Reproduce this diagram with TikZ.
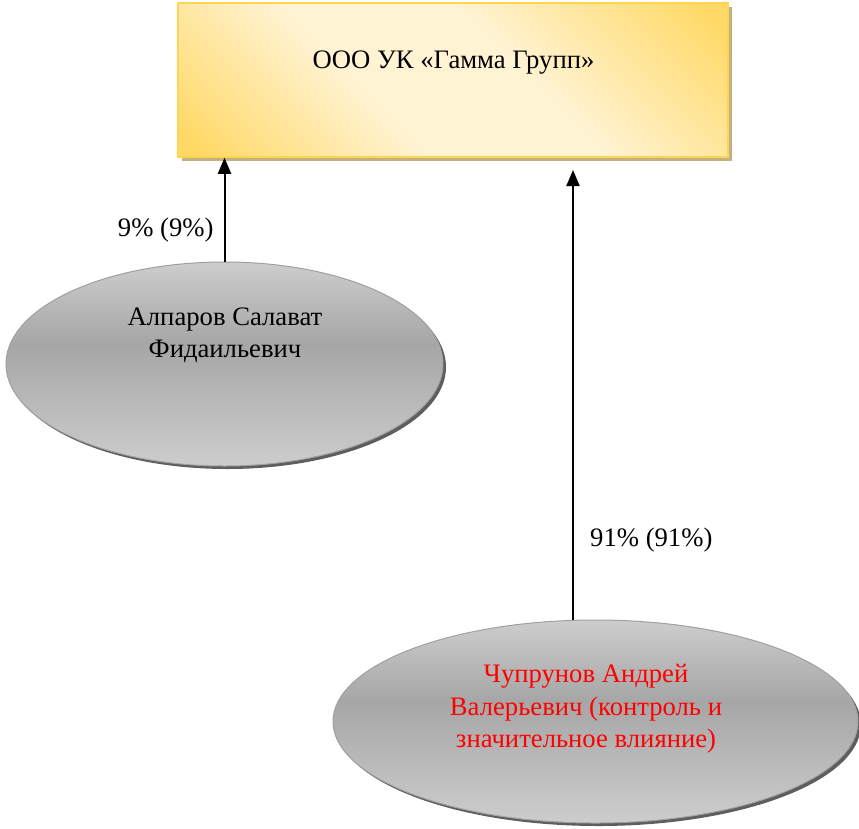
\documentclass[tikz,border=0pt]{standalone}
\usepackage{fontspec}
\setmainfont{Liberation Serif}
\usepackage{tikz}
\usetikzlibrary{arrows.meta}
\usetikzlibrary{shapes.geometric}
\usetikzlibrary{shadows}
\definecolor{goldbox}{HTML}{FFD966}
\definecolor{palebox}{HTML}{FFF3D4}
\definecolor{goldline}{HTML}{FFD452}
\definecolor{tanshadow}{HTML}{C3B27E}
\definecolor{lightgrey}{HTML}{CDCDCD}
\definecolor{midgrey}{HTML}{A6A6A6}
\definecolor{edgegrey}{HTML}{A0A0A0}
\definecolor{darkshadow}{HTML}{5E5E5E}
\pgfdeclarehorizontalshading{goldband}{100bp}{color(0bp)=(goldbox); color(17bp)=(goldbox); color(40bp)=(palebox); color(58bp)=(palebox); color(83bp)=(goldbox); color(100bp)=(goldbox)}
\pgfdeclareverticalshading{greyband}{100bp}{color(0bp)=(lightgrey); color(25bp)=(lightgrey); color(55bp)=(midgrey); color(75bp)=(lightgrey); color(100bp)=(lightgrey)}

\begin{document}
\begin{tikzpicture}[x=1pt,y=-1pt,
  company/.style={draw=goldline,line width=1.5pt,shading=goldband,shading angle=45,
    minimum width=550pt,minimum height=154pt,inner sep=0pt,
    drop shadow={shadow xshift=4pt,shadow yshift=-4pt,fill=tanshadow,opacity=1}},
  owner/.style={ellipse,draw=edgegrey,line width=1pt,shading=greyband,inner sep=0pt,
    drop shadow={shadow xshift=3pt,shadow yshift=-3pt,fill=darkshadow,opacity=1}},
  txt/.style={font=\fontsize{26.67}{32.5}\selectfont,align=center,inner sep=0pt},
  conn/.style={line width=2pt,-{Triangle[length=16pt,width=13pt]}}]
\useasboundingbox (0,0) rectangle (859,828);

\node[company] (ooo) at (453,80) {};
\node[txt] (ooo name) at (453.5,63) {ООО УК «Гамма Групп»};

\node[owner,minimum width=437pt,minimum height=204pt] (alp) at (224.5,364) {};
\node[txt] (alp name) at (225,335) {Алпаров Салават\\Фидаильевич};

\node[owner,minimum width=525pt,minimum height=203pt] (chu) at (595.5,721.5) {};
\node[txt,text=red] (chu name) at (586,709) {Чупрунов Андрей\\Валерьевич (контроль и\\значительное влияние)};

\coordinate (tip) at (573,170);
\draw[conn] (alp.north) -- (ooo.south -| alp.north) node[pos=0.3,left=10pt,txt] (alp share) {9\% (9\%)};
\draw[conn] (chu.north -| tip) -- (tip);
\node[txt,anchor=west] (chu share) at (590,540) {91\% (91\%)};
\end{tikzpicture}
\end{document}
